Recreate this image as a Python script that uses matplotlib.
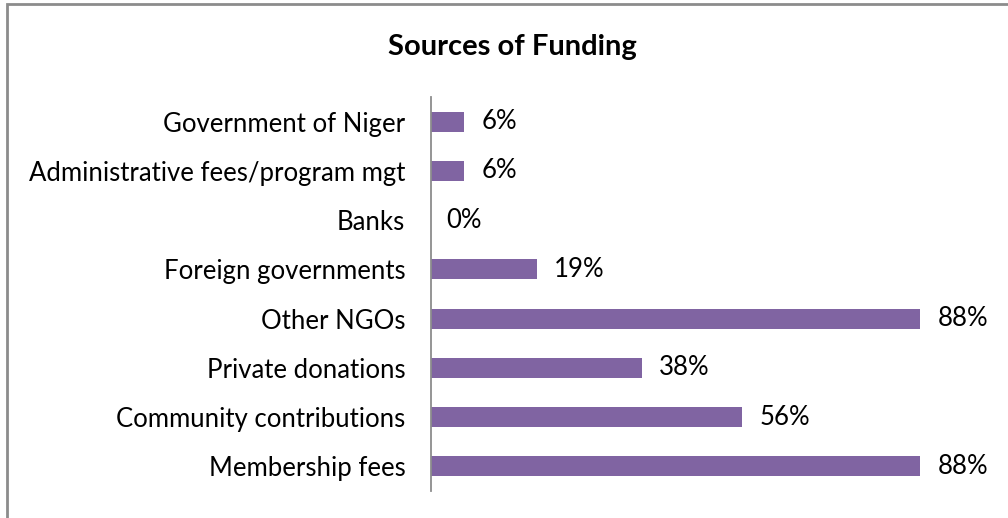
import matplotlib
matplotlib.use("Agg")
import matplotlib.pyplot as plt
from matplotlib.patches import Rectangle

categories = ["Membership fees", "Community contributions", "Private donations",
              "Other NGOs", "Foreign governments", "Banks",
              "Administrative fees/program mgt", "Government of Niger"]
values = [0.88, 0.56, 0.38, 0.88, 0.19, 0.00, 0.06, 0.06]
value_labels = ["88%", "56%", "38%", "88%", "19%", "0%", "6%", "6%"]
title = "Sources of Funding"

plt.rcParams['font.family'] = ['Lato', 'DejaVu Sans']

W, H = 1008, 518
fig = plt.figure(figsize=(W / 100, H / 100), dpi=100)
fig.patch.set_facecolor("white")

# outer border (left/top visible)
fig.patches.append(Rectangle((7 / W, -0.1), 1.2, (1 - 4 / H) + 0.1,
                             transform=fig.transFigure, fill=False,
                             edgecolor="#8c8c8c", linewidth=2))

left, right = 431 / W, 987 / W
top, bottom = 1 - 97 / H, 1 - 491 / H
ax = fig.add_axes([left, bottom, right - left, top - bottom])

y = list(range(len(categories)))
ax.barh(y, values, height=0.41, color="#8064A2", edgecolor="none")
ax.set_xlim(0, 1.0)
ax.set_ylim(-0.5, len(categories) - 0.5)
ax.set_yticks(y)
ax.set_yticklabels(categories, fontsize=18.5)
ax.tick_params(axis="y", length=0, pad=18.5)
ax.set_xticks([])
for s in ["top", "right", "bottom"]:
    ax.spines[s].set_visible(False)
ax.spines["left"].set_color("#8c8c8c")
ax.spines["left"].set_linewidth(1.3)

for yi, v, lab in zip(y, values, value_labels):
    ax.annotate(lab, xy=(v, yi), xytext=(17 if v > 0 else 15, 0),
                textcoords="offset pixels", va="center", ha="left",
                fontsize=18.5)

fig.text(512 / W, 1 - 47 / H, title, ha="center", va="center",
         fontsize=21, fontweight="bold")

fig.savefig("out.png", dpi=100, facecolor="white")
